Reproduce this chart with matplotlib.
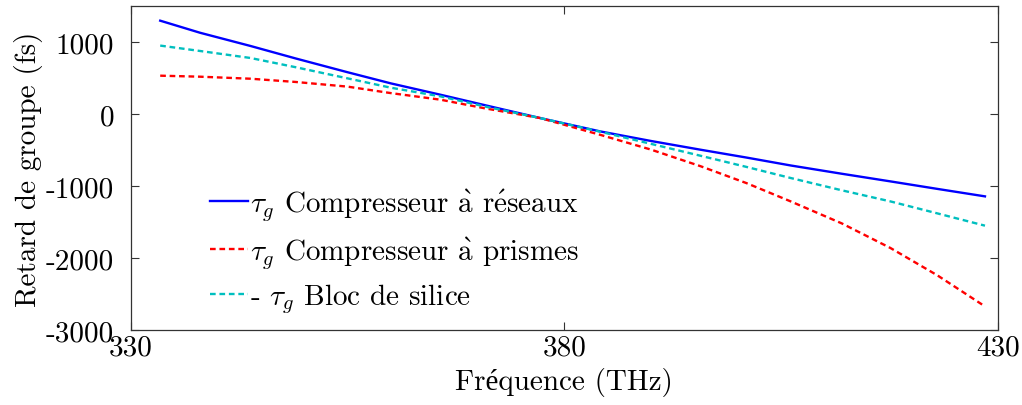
import numpy as np
import matplotlib.pyplot as plt

plt.rcParams['font.family'] = ['cmr10', 'Liberation Serif']
plt.rcParams['mathtext.fontset'] = 'cm'
plt.rcParams['axes.unicode_minus'] = False

# values (frequency in THz, group delay in fs)
freq = [333.4, 338, 343.8, 349, 355, 360, 365.7, 371, 377.2, 384.1, 390, 395.7, 401, 406.1, 412, 417.6, 423, 428.5]
tau_reseaux = [1296, 1128, 945, 772, 580, 425, 268, 118, -56, -241, -375, -496, -605, -715, -830, -936, -1040, -1144]
tau_prismes = [532, 518, 490, 445, 380, 290, 199, 75, -56, -288, -495, -725, -960, -1214, -1520, -1861, -2240, -2672]
tau_silice = [950, 875, 778, 650, 495, 365, 245, 100, -56, -245, -415, -580, -735, -889, -1060, -1214, -1380, -1551]

xticks = [330, 380, 430]
yticks = [1000, 0, -1000, -2000, -3000]

fs = 21
fig = plt.figure(figsize=(10.22, 4.06), dpi=100)
ax = fig.add_axes([0.1279, 0.1847, 0.8486, 0.7981])

ax.plot(freq, tau_reseaux, color='#0000ff', lw=1.7,
        label=r'$\tau_g$ Compresseur $\grave{\mathrm{a}}$ r$\acute{\mathrm{e}}$seaux')
ax.plot(freq, tau_prismes, color='#ff0000', lw=1.7, dashes=(2.4, 1.6),
        label=r'$\tau_g$ Compresseur $\grave{\mathrm{a}}$ prismes')
ax.plot(freq, tau_silice, color='#00bfbf', lw=1.7, dashes=(2.4, 1.6),
        label=r'- $\tau_g$ Bloc de silice')

ax.set_xlim(330, 430)
ax.set_ylim(-3000, 1500)
ax.set_xticks(xticks)
ax.set_xticklabels([str(t) for t in xticks])
ax.set_yticks(yticks)
ax.set_yticklabels([str(t) for t in yticks])
ax.tick_params(direction='in', length=6, width=0.8, labelsize=fs, top=True, right=True, color='#333333')
ax.tick_params(axis='y', pad=12)
ax.tick_params(axis='x', pad=3)
for s in ax.spines.values():
    s.set_linewidth(0.9)
    s.set_color('#333333')

ax.set_xlabel('Fréquence (THz)', fontsize=fs, labelpad=5)
ax.set_ylabel('Retard de groupe (fs)', fontsize=fs, labelpad=2)

ax.legend(loc='upper left', bbox_to_anchor=(0.0914, 0.443), frameon=False, fontsize=fs,
          handlelength=1.3, handletextpad=0.07, labelspacing=0.4, borderpad=0, borderaxespad=0)

fig.savefig('out.png', dpi=100)
